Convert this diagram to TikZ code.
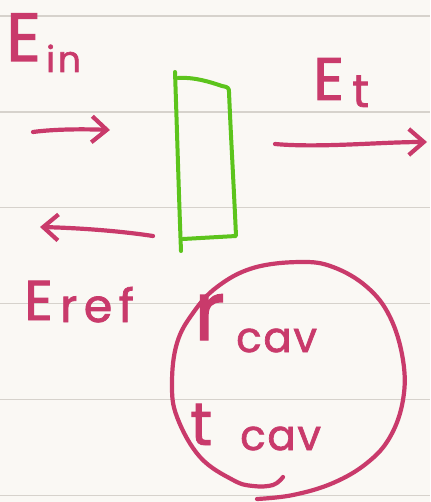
\documentclass[tikz,border=0pt]{standalone}
\usepackage{fontspec}
\setmainfont{Poppins}[FakeBold=1.6]
\usetikzlibrary{arrows.meta}
\definecolor{paper}{HTML}{FAF8F4}
\definecolor{rule}{HTML}{D6D2CC}
\definecolor{ink}{HTML}{C93A6B}
\definecolor{leaf}{HTML}{5CC41C}
\tikzset{
  pen/.style={draw=ink, line width=4.2pt, line cap=round, line join=round},
  arr/.style={pen, -{Straight Barb[length=15pt,width=26pt,line width=4.2pt]}},
  txt/.style={text=ink, inner sep=0pt, anchor=base west},
  paperline/.style={draw=rule, line width=1.8pt}
}
\begin{document}
\begin{tikzpicture}[x=1pt,y=-1pt]
\useasboundingbox (0,0) rectangle (430,502);
\fill[paper] (0,0) rectangle (430,502);
\foreach \yy in {15.7,111.7,207.5,303.4,399.4,495.4}
  \draw[paperline] (0,\yy) -- (430,\yy);

% labels
\node[txt, font=\fontsize{68}{68}\selectfont] (Ein) at (6,61) {E};
\node[txt, font=\fontsize{36}{36}\selectfont\addfontfeature{LetterSpace=8}] (in) at (46,72) {in};
\node[txt, font=\fontsize{60}{60}\selectfont] (Et) at (313,100) {E};
\node[txt, font=\fontsize{46}{46}\selectfont] (t) at (352,107) {t};
\node[txt, font=\fontsize{56}{56}\selectfont] (Er) at (24,320) {E};
\node[txt, font=\fontsize{46}{46}\selectfont\addfontfeature{LetterSpace=14}] (ref) at (60,322) {ref};
\node[txt, font=\fontsize{82}{82}\selectfont] (rr) at (194,340) {r};
\node[txt, font=\fontsize{42}{42}\selectfont\addfontfeature{LetterSpace=4}] (rcav) at (236,352) {cav};
\node[txt, font=\fontsize{60}{60}\selectfont] (tt) at (190,445) {t};
\node[txt, font=\fontsize{42}{42}\selectfont\addfontfeature{LetterSpace=4}] (tcav) at (240,450) {cav};

% arrows
\coordinate (a1s) at (33,132);
\coordinate (a1e) at (110,130);
\coordinate (a2s) at (275,144);
\coordinate (a2e) at (427,142);
\coordinate (a3s) at (153,236);
\coordinate (a3e) at (40,227);
\draw[arr] (a1s) .. controls (55,129) and (85,129) .. (a1e);
\draw[arr] (a2s) .. controls (320,148) and (380,142) .. (a2e);
\draw[arr] (a3s) .. controls (120,231) and (80,228) .. (a3e);

% green slab
\draw[draw=leaf, line width=4pt, line cap=round, line join=round]
  (175,72) .. controls (177,130) and (179,200) .. (181,251);
\draw[draw=leaf, line width=4pt, line cap=round, line join=round]
  (178,78) .. controls (195,77) and (210,82) .. (222,86)
  .. controls (228,87) and (229,88) .. (229,92)
  .. controls (231,140) and (234,190) .. (236,236)
  -- (183,239);

% circle
\draw[pen] plot[smooth, tension=0.65] coordinates {
  (283,477) (273,485) (253,486) (233,480) (200,457) (177,417) (172,383)
  (177,343) (193,313) (217,287) (253,268) (300,262) (333,267) (367,287)
  (390,317) (403,360) (403,400) (390,437) (367,463) (333,483) (293,495) (257,499)};
\end{tikzpicture}
\end{document}
